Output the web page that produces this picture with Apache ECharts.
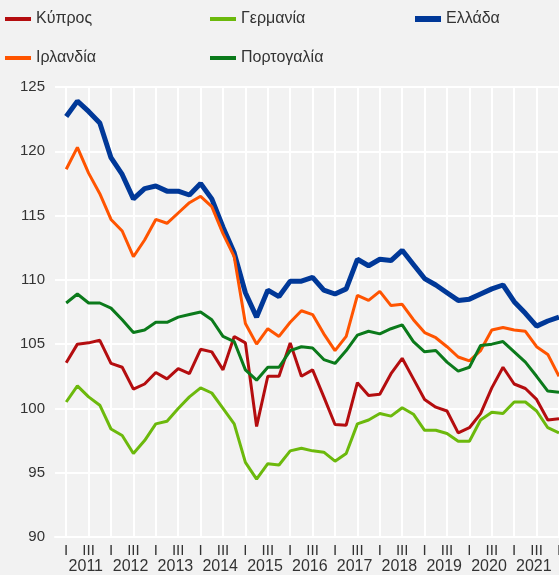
<!DOCTYPE html>
<html><head><meta charset="utf-8">
<script src="https://cdn.jsdelivr.net/npm/echarts@6/dist/echarts.min.js"></script>
<style>html,body{margin:0;padding:0;background:#f2f2f2}#c{width:559px;height:575px}</style>
</head><body><div id="c"></div>
<script>
// categories: one blank slot (2010 Q4) then quarters 2011 Q1 .. 2022 Q1
const yearLabels = ['2011','2012','2013','2014','2015','2016','2017','2018','2019','2020','2021'];
const quarterLabels = {Q1: 'I', Q3: 'III'};
const categories = ['2010-Q4'];
for (const y of yearLabels) { for (const q of ['Q1','Q2','Q3','Q4']) categories.push(y + '-' + q); }
categories.push('2022-Q1');

const cyprus = [103.55,105.0,105.1,105.3,103.5,103.2,101.5,101.9,102.8,102.3,103.1,102.7,104.6,104.4,103.0,105.6,105.1,98.6,102.5,102.5,105.1,102.5,103.0,100.9,98.75,98.7,102.0,101.0,101.1,102.7,103.9,102.3,100.7,100.1,99.8,98.1,98.5,99.6,101.6,103.2,101.9,101.55,100.7,99.1,99.2];
const germany = [100.5,101.75,100.9,100.25,98.4,97.9,96.5,97.5,98.8,99.0,100.0,100.9,101.6,101.2,100.0,98.8,95.8,94.5,95.7,95.6,96.7,96.9,96.7,96.6,95.9,96.5,98.8,99.1,99.6,99.4,100.05,99.55,98.3,98.3,98.05,97.45,97.45,99.1,99.7,99.6,100.5,100.5,99.8,98.5,98.1];
const greece = [122.7,123.9,123.1,122.2,119.5,118.2,116.3,117.1,117.3,116.9,116.9,116.6,117.5,116.3,114.1,112.1,109.0,107.1,109.2,108.7,109.9,109.9,110.2,109.2,108.9,109.3,111.6,111.1,111.6,111.5,112.3,111.2,110.1,109.6,109.0,108.4,108.5,108.9,109.3,109.6,108.3,107.4,106.4,106.8,107.1];
const ireland = [118.6,120.3,118.3,116.7,114.7,113.8,111.8,113.1,114.7,114.4,115.2,116.0,116.5,115.7,113.6,111.8,106.6,105.0,106.2,105.6,106.7,107.6,107.3,105.8,104.5,105.6,108.8,108.4,109.1,108.0,108.1,106.9,105.9,105.5,104.8,104.0,103.7,104.5,106.1,106.3,106.1,106.0,104.8,104.2,102.5];
const portugal = [108.2,108.9,108.2,108.2,107.8,106.9,105.9,106.1,106.7,106.7,107.1,107.3,107.5,106.9,105.6,105.2,103.0,102.2,103.2,103.2,104.5,104.8,104.7,103.8,103.5,104.5,105.7,106.0,105.8,106.2,106.5,105.2,104.4,104.5,103.6,102.9,103.2,104.9,105.0,105.2,104.4,103.6,102.5,101.35,101.25];

const seriesDefs = [
  {name: 'Κύπρος', data: cyprus, color: '#b40d0f', width: 3},
  {name: 'Γερμανία', data: germany, color: '#6cb90c', width: 3},
  {name: 'Ελλάδα', data: greece, color: '#003898', width: 5},
  {name: 'Ιρλανδία', data: ireland, color: '#ff5400', width: 3},
  {name: 'Πορτογαλία', data: portugal, color: '#0b7a1b', width: 3}
];
const legendPos = [[5,11],[210,11],[415,11],[5,50],[210,50]];

const font = 'Liberation Sans, Arial, sans-serif';
const chart = echarts.init(document.getElementById('c'), null, {renderer: 'canvas'});
chart.setOption({
  animation: false,
  backgroundColor: '#f2f2f2',
  textStyle: {fontFamily: font},
  grid: {left: 55, right: 0, top: 87, bottom: 38, outerBoundsMode: 'none'},
  legend: seriesDefs.map((s, i) => ({
    data: [s.name], left: legendPos[i][0], top: legendPos[i][1], padding: 0,
    icon: 'rect', itemWidth: 26, itemHeight: s.width === 5 ? 6 : 4, itemGap: 5,
    textStyle: {fontSize: 16, color: '#333', fontFamily: font},
    selectedMode: false
  })),
  xAxis: [{
    type: 'category', data: categories, boundaryGap: false,
    axisLine: {show: true, lineStyle: {color: '#fff', width: 2}},
    axisTick: {show: false},
    axisLabel: {interval: 0, fontSize: 15, color: '#333', margin: 6,
      formatter: v => quarterLabels[v.slice(-2)] || ''},
    splitLine: {show: true, interval: (i, v) => !!quarterLabels[v.slice(-2)],
      lineStyle: {color: '#fff', width: 2}}
  }, {
    type: 'value', min: -1, max: 44, interval: 0.25, position: 'bottom',
    axisLine: {show: false}, axisTick: {show: false}, splitLine: {show: false},
    axisLabel: {fontSize: 16, color: '#333', margin: 22, showMinLabel: true, showMaxLabel: true,
      formatter: v => { const k = Math.round((v - 1.75) / 4 * 1000) / 1000; return (Number.isInteger(k) && k >= 0 && k < yearLabels.length) ? yearLabels[k] : ''; }}
  }],
  yAxis: {
    type: 'value', min: 90, max: 125, interval: 5,
    axisLine: {show: true, lineStyle: {color: '#fff', width: 2}},
    axisTick: {show: false},
    axisLabel: {fontSize: 15, color: '#333', margin: 10},
    splitLine: {show: true, lineStyle: {color: '#fff', width: 2}}
  },
  series: seriesDefs.map(s => ({
    name: s.name, type: 'line', xAxisIndex: 0, symbol: 'none',
    data: [null].concat(s.data),
    itemStyle: {color: s.color},
    lineStyle: {color: s.color, width: s.width}
  }))
});
</script></body></html>
